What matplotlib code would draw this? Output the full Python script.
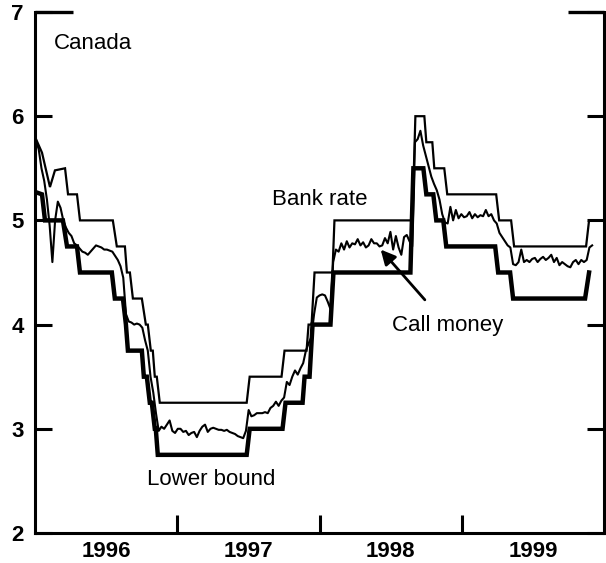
import numpy as np
import matplotlib
matplotlib.use('Agg')
import matplotlib.pyplot as plt

# Bank rate (upper end of operating band), vertices in decimal years
bank_dates = [1996.007, 1996.049, 1996.105, 1996.140, 1996.211, 1996.232, 1996.295, 1996.316,
              1996.547, 1996.575, 1996.632, 1996.646, 1996.667, 1996.688, 1996.751, 1996.779,
              1996.793, 1996.814, 1996.828, 1996.842, 1996.856, 1996.877, 1997.488, 1997.509,
              1997.733, 1997.754, 1997.909, 1997.923, 1997.944, 1997.965, 1998.091, 1998.105,
              1998.653, 1998.674, 1998.737, 1998.751, 1998.793, 1998.807, 1998.877, 1998.898,
              1999.242, 1999.263, 1999.347, 1999.368, 1999.874, 1999.895, 1999.993]
bank_rate = [5.78, 5.65, 5.32, 5.48, 5.50, 5.25, 5.25, 5.00,
             5.00, 4.75, 4.75, 4.50, 4.50, 4.25, 4.25, 4.00,
             4.00, 3.75, 3.75, 3.50, 3.50, 3.25, 3.25, 3.50,
             3.50, 3.75, 3.75, 4.00, 4.00, 4.50, 4.50, 5.00,
             5.00, 6.00, 6.00, 5.75, 5.75, 5.50, 5.50, 5.25,
             5.25, 5.00, 5.00, 4.75, 4.75, 5.00, 5.00]

# Lower bound of operating band
lower_dates = [1996.007, 1996.049, 1996.070, 1996.196, 1996.225, 1996.295, 1996.316, 1996.540,
               1996.561, 1996.618, 1996.639, 1996.653, 1996.751, 1996.765, 1996.786, 1996.807,
               1996.821, 1996.842, 1996.849, 1996.863, 1997.488, 1997.509, 1997.740, 1997.761,
               1997.881, 1997.895, 1997.930, 1997.951, 1998.077, 1998.098, 1998.639, 1998.660,
               1998.730, 1998.751, 1998.800, 1998.821, 1998.870, 1998.891, 1999.235, 1999.256,
               1999.340, 1999.361, 1999.867, 1999.895]
lower_bound = [5.27, 5.25, 5.00, 5.00, 4.75, 4.75, 4.50, 4.50,
               4.25, 4.25, 4.00, 3.75, 3.75, 3.50, 3.50, 3.25,
               3.25, 3.00, 3.00, 2.75, 2.75, 3.00, 3.00, 3.25,
               3.25, 3.50, 3.50, 4.00, 4.00, 4.50, 4.50, 5.50,
               5.50, 5.25, 5.25, 5.00, 5.00, 4.75, 4.75, 4.50,
               4.50, 4.25, 4.25, 4.50]

# Overnight call money rate, weekly from first week of 1996
call_start = 1996.007
call_money = [5.77, 5.68, 5.50, 5.38, 5.20, 4.95, 4.60, 5.00, 5.18, 5.12,
              5.00, 4.93, 4.88, 4.85, 4.78, 4.76, 4.73, 4.70, 4.69, 4.67,
              4.70, 4.73, 4.76, 4.75, 4.74, 4.72, 4.72, 4.71, 4.70, 4.66,
              4.62, 4.56, 4.45, 4.10, 4.03, 4.02, 4.00, 4.01, 4.00, 3.97,
              3.85, 3.75, 3.50, 3.35, 3.15, 2.98, 3.02, 3.00, 3.04, 3.08,
              2.98, 2.96, 3.00, 3.00, 2.97, 2.98, 2.94, 2.96, 2.97, 2.92,
              2.98, 3.02, 3.04, 2.97, 3.00, 3.01, 3.00, 2.99, 2.99, 2.98,
              2.99, 2.97, 2.96, 2.95, 2.93, 2.92, 2.91, 2.98, 3.18, 3.12,
              3.13, 3.15, 3.15, 3.15, 3.16, 3.15, 3.20, 3.22, 3.26, 3.22,
              3.27, 3.30, 3.45, 3.42, 3.50, 3.56, 3.52, 3.58, 3.63, 3.75,
              3.82, 3.88, 4.10, 4.26, 4.28, 4.29, 4.28, 4.22, 4.15, 4.60,
              4.72, 4.70, 4.78, 4.72, 4.80, 4.74, 4.78, 4.77, 4.82, 4.76,
              4.79, 4.74, 4.76, 4.82, 4.78, 4.78, 4.75, 4.76, 4.83, 4.78,
              4.89, 4.72, 4.85, 4.74, 4.67, 4.84, 4.86, 4.80, 4.75, 5.75,
              5.78, 5.86, 5.72, 5.62, 5.52, 5.42, 5.35, 5.29, 5.20, 5.06,
              4.98, 4.97, 5.13, 5.00, 5.10, 5.02, 5.06, 5.03, 5.04, 5.08,
              5.02, 5.06, 5.03, 5.05, 5.04, 5.10, 5.04, 5.06, 5.00, 4.97,
              4.88, 4.84, 4.80, 4.76, 4.74, 4.58, 4.57, 4.60, 4.72, 4.60,
              4.62, 4.60, 4.63, 4.64, 4.60, 4.63, 4.65, 4.62, 4.64, 4.67,
              4.60, 4.64, 4.57, 4.60, 4.58, 4.56, 4.55, 4.60, 4.62, 4.58,
              4.62, 4.60, 4.62, 4.74, 4.76]
call_dates = call_start + np.arange(len(call_money)) * 7 / 365.25

years = [1996, 1997, 1998, 1999]
year_labels = ["1996", "1997", "1998", "1999"]
y_ticks = [2, 3, 4, 5, 6, 7]

plt.rcParams['font.family'] = ['Liberation Sans', 'DejaVu Sans']

fig = plt.figure(figsize=(6.06, 5.63), dpi=100)
ax = fig.add_axes([0.0578, 0.0533, 0.9389, 0.9254])

ax.plot(bank_dates, bank_rate, color='black', lw=1.6, solid_joinstyle='miter')
ax.plot(lower_dates, lower_bound, color='black', lw=3.2, solid_joinstyle='miter')
ax.plot(call_dates, call_money, color='black', lw=1.5)

ax.set_xlim(1996.0, 2000.0)
ax.set_ylim(2, 7)

ax.spines['top'].set_visible(False)
for s in ['left', 'right', 'bottom']:
    ax.spines[s].set_linewidth(2.2)

# short frame pieces at the top
ax.plot([0, 0.067], [1, 1], transform=ax.transAxes, color='black', lw=2.4, clip_on=False,
        solid_capstyle='butt')
ax.plot([0.937, 1.0], [1, 1], transform=ax.transAxes, color='black', lw=2.4, clip_on=False,
        solid_capstyle='butt')

ax.set_yticks(y_ticks)
ax.set_yticklabels([str(v) for v in y_ticks], fontsize=16, fontweight='bold')
ax.tick_params(axis='y', direction='in', length=12, width=2.2, left=True, right=True, pad=8)

ax.set_xticks(years[1:])
ax.set_xticklabels([])
ax.set_xticks([y + 0.5 for y in years], minor=True)
ax.set_xticklabels(year_labels, minor=True, fontsize=16, fontweight='bold')
ax.tick_params(axis='x', which='major', direction='in', length=13, width=2.2)
ax.tick_params(axis='x', which='minor', length=0, pad=6)

ax.text(1996.13, 6.70, 'Canada', fontsize=16, ha='left', va='center')
ax.text(1998.0, 5.2, 'Bank rate', fontsize=16, ha='center', va='center')
ax.text(1997.235, 2.51, 'Lower bound', fontsize=16, ha='center', va='center')
ax.annotate('Call money', xy=(1998.43, 4.72), xytext=(1998.9, 3.99), fontsize=16,
            ha='center', va='center',
            arrowprops=dict(arrowstyle='-|>', color='black', lw=2, mutation_scale=22,
                            shrinkA=12, shrinkB=0))

plt.savefig('out.png', dpi=100)
